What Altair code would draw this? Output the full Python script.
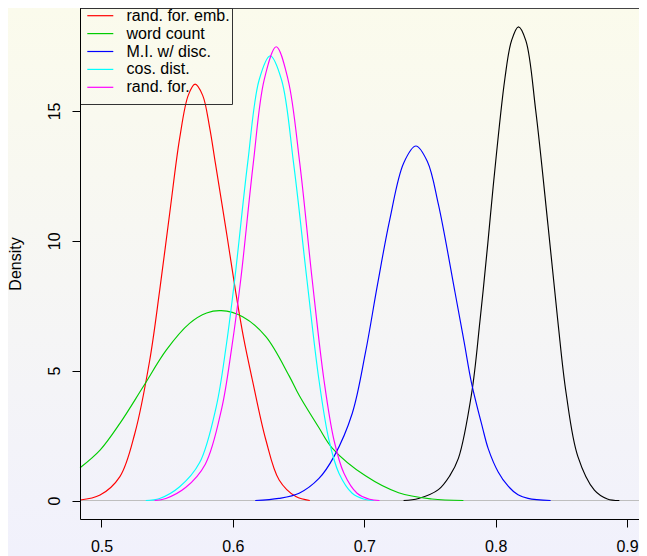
import altair as alt
import pandas as pd

# ---- series ----
series_names = ["(no label)", "rand. for. emb.", "word count", "M.I. w/ disc.", "cos. dist.", "rand. for."]
series_colors = ["#000000", "#FF0000", "#00CD00", "#0000FF", "#00FFFF", "#FF00FF"]
legend_labels = series_names[1:]
legend_colors = series_colors[1:]

black_x = [0.7299, 0.7413, 0.7564, 0.7650, 0.7716, 0.7817, 0.7880, 0.7940, 0.7981, 0.8070, 0.8120,
           0.8173, 0.8230, 0.8305, 0.8398, 0.8473, 0.8536, 0.8625, 0.8751, 0.8850, 0.8941]
black_y = [0.00, 0.08, 0.42, 0.95, 1.62, 4.13, 6.90, 9.90, 12.10, 16.25, 17.70,
           18.24, 17.70, 15.00, 10.60, 6.90, 4.13, 1.70, 0.40, 0.06, 0.00]

red_x = [0.4837, 0.4989, 0.5140, 0.5254, 0.5367, 0.5443, 0.5520, 0.5595, 0.5660, 0.5712, 0.5770,
         0.5822, 0.5867, 0.5948, 0.6019, 0.6080, 0.6150, 0.6251, 0.6352, 0.6479, 0.6585]
red_y = [0.02, 0.21, 0.92, 2.59, 5.40, 8.10, 11.10, 13.95, 15.60, 16.03, 15.60,
         14.39, 12.98, 10.42, 8.10, 6.30, 4.60, 2.33, 0.79, 0.15, 0.00]

green_x = [0.4837, 0.4989, 0.5140, 0.5317, 0.5494, 0.5670, 0.5800, 0.5911, 0.6074, 0.6251,
           0.6428, 0.6504, 0.6655, 0.6756, 0.7009, 0.7261, 0.7514, 0.7754]
green_y = [1.26, 1.94, 2.97, 4.38, 5.80, 6.82, 7.22, 7.31, 7.08, 6.31,
           4.80, 4.05, 2.80, 2.02, 0.95, 0.30, 0.06, 0.00]

blue_x = [0.6170, 0.6350, 0.6504, 0.6655, 0.6770, 0.6908, 0.7009, 0.7100, 0.7193, 0.7300,
          0.7393, 0.7480, 0.7564, 0.7691, 0.7760, 0.7817, 0.7900, 0.7943, 0.8019, 0.8095,
          0.8170, 0.8246, 0.8418]
blue_y = [0.00, 0.08, 0.28, 0.85, 1.70, 3.35, 5.70, 8.30, 10.80, 13.00,
          13.65, 13.05, 11.40, 8.00, 6.10, 4.50, 2.80, 2.00, 1.10, 0.55,
          0.22, 0.08, 0.00]

cyan_x = [0.5337, 0.5443, 0.5595, 0.5746, 0.5873, 0.5948, 0.6014, 0.6112, 0.6200, 0.6284,
          0.6370, 0.6462, 0.6563, 0.6655, 0.6731, 0.6807, 0.6908, 0.7000, 0.7072]
cyan_y = [0.00, 0.08, 0.53, 1.45, 3.61, 5.92, 8.52, 12.98, 16.20, 17.12,
          16.20, 12.98, 8.52, 4.64, 2.33, 1.05, 0.28, 0.05, 0.00]

magenta_x = [0.5405, 0.5490, 0.5640, 0.5790, 0.5915, 0.5990, 0.6060, 0.6155, 0.6238, 0.6330,
             0.6420, 0.6509, 0.6603, 0.6693, 0.6769, 0.6845, 0.6945, 0.7040, 0.7115]
magenta_y = [0.00, 0.08, 0.50, 1.40, 3.55, 5.85, 8.52, 12.98, 16.20, 17.47,
             16.20, 12.98, 8.52, 4.64, 2.33, 1.05, 0.28, 0.05, 0.00]

x_ticks = [0.5, 0.6, 0.7, 0.8, 0.9]
y_ticks = [0, 5, 10, 15]

series_data = [
    (series_names[0], black_x, black_y),
    (series_names[1], red_x, red_y),
    (series_names[2], green_x, green_y),
    (series_names[3], blue_x, blue_y),
    (series_names[4], cyan_x, cyan_y),
    (series_names[5], magenta_x, magenta_y),
]

rows = []
for k, (name, xs, ys) in enumerate(series_data):
    for i, (xv, yv) in enumerate(zip(xs, ys)):
        rows.append({"series": name, "x": xv, "y": yv, "order": i, "k": k})
df = pd.DataFrame(rows)

legend_df = pd.DataFrame({"label": legend_labels, "color": legend_colors,
                          "row": list(range(len(legend_labels)))})
one = pd.DataFrame({"a": [0]})
zero_df = pd.DataFrame({"y": [0]})

PAD_L, PAD_B = 72, 37
W, H = 631 - PAD_L, 511
PX_PER_UNIT = 1314.0
X0 = 0.5 - 21.5 / PX_PER_UNIT
FONT = "Liberation Sans"

x_scale = alt.Scale(domain=[X0, X0 + W / PX_PER_UNIT], nice=False, zero=False)
y_scale = alt.Scale(domain=[-0.712, 18.964], nice=False, zero=False)

gradient = alt.LinearGradient(
    gradient="linear",
    stops=[alt.GradientStop(color="#FBFBEC", offset=0),
           alt.GradientStop(color="#F6F6F4", offset=0.5),
           alt.GradientStop(color="#F1F1FC", offset=1)],
    x1=0, x2=0, y1=0, y2=1)

bg = alt.Chart(one).mark_rect(fill=gradient, strokeWidth=0).encode(
    x=alt.value(-PAD_L), x2=alt.value(W), y=alt.value(0), y2=alt.value(H + PAD_B))

zero_line = alt.Chart(zero_df).mark_rule(color="#BEBEBE", strokeWidth=1).encode(
    y=alt.Y("y:Q", scale=y_scale, axis=None),
    x=alt.value(0), x2=alt.value(W))

x_axis = alt.Axis(values=x_ticks, format=".1f", title=None, grid=False,
                  domainColor="black", tickColor="black", tickSize=8,
                  labelFont=FONT, labelFontSize=16, labelColor="black",
                  labelBaseline="alphabetic", labelPadding=24,
                  labelFlush=False, labelOverlap=False, zindex=1)
y_axis = alt.Axis(values=y_ticks, format="d", title="Density", orient="left", grid=False,
                  domainColor="black", tickColor="black", tickSize=8,
                  labelFont=FONT, labelFontSize=16, labelColor="black",
                  labelAngle=270, labelAlign="center", labelBaseline="alphabetic",
                  labelPadding=12.5, labelFlush=False, labelOverlap=False,
                  titleFont=FONT, titleFontSize=16, titleFontWeight="normal", titleColor="black",
                  titleAngle=270, titleAlign="center", titleBaseline="alphabetic",
                  titleX=-60, titleY=H / 2, zindex=1)

curves = alt.Chart(df).mark_line(strokeWidth=1.15, interpolate="catmull-rom").encode(
    x=alt.X("x:Q", scale=x_scale, axis=x_axis),
    y=alt.Y("y:Q", scale=y_scale, axis=y_axis),
    color=alt.Color("series:N", scale=alt.Scale(domain=series_names, range=series_colors), legend=None),
    detail="series:N",
    order="order:Q",
)

top_line = alt.Chart(one).mark_rule(color="#444444", strokeWidth=1).encode(
    x=alt.value(0), x2=alt.value(W), y=alt.value(0.5))

leg_y = alt.Y("row:Q", scale=alt.Scale(domain=[0, len(legend_labels) - 1], range=[7.7, 79.3]), axis=None)

leg_box = alt.Chart(one).mark_rect(fillOpacity=0, stroke="#333333", strokeWidth=1).encode(
    x=alt.value(0.5), x2=alt.value(152.5), y=alt.value(0.5), y2=alt.value(96.5))

leg_lines = alt.Chart(legend_df).mark_rule(strokeWidth=1.2).encode(
    x=alt.value(7.3), x2=alt.value(33.3), y=leg_y,
    color=alt.Color("color:N", scale=None))

leg_text = alt.Chart(legend_df).mark_text(align="left", baseline="middle", font=FONT,
                                          fontSize=16, color="black").encode(
    x=alt.value(46.5), y=leg_y, text="label:N")

chart = alt.layer(bg, zero_line, curves, top_line, leg_box, leg_lines, leg_text).resolve_scale(
    y="independent", color="independent"
).properties(
    width=W, height=H,
    padding={"left": PAD_L, "top": 0, "right": 0, "bottom": PAD_B},
    autosize=alt.AutoSizeParams(type="none"),
).configure_view(stroke=None).configure(background="#F6F6F5")

chart.save("out.html", embed_options={"renderer": "svg", "actions": False})
